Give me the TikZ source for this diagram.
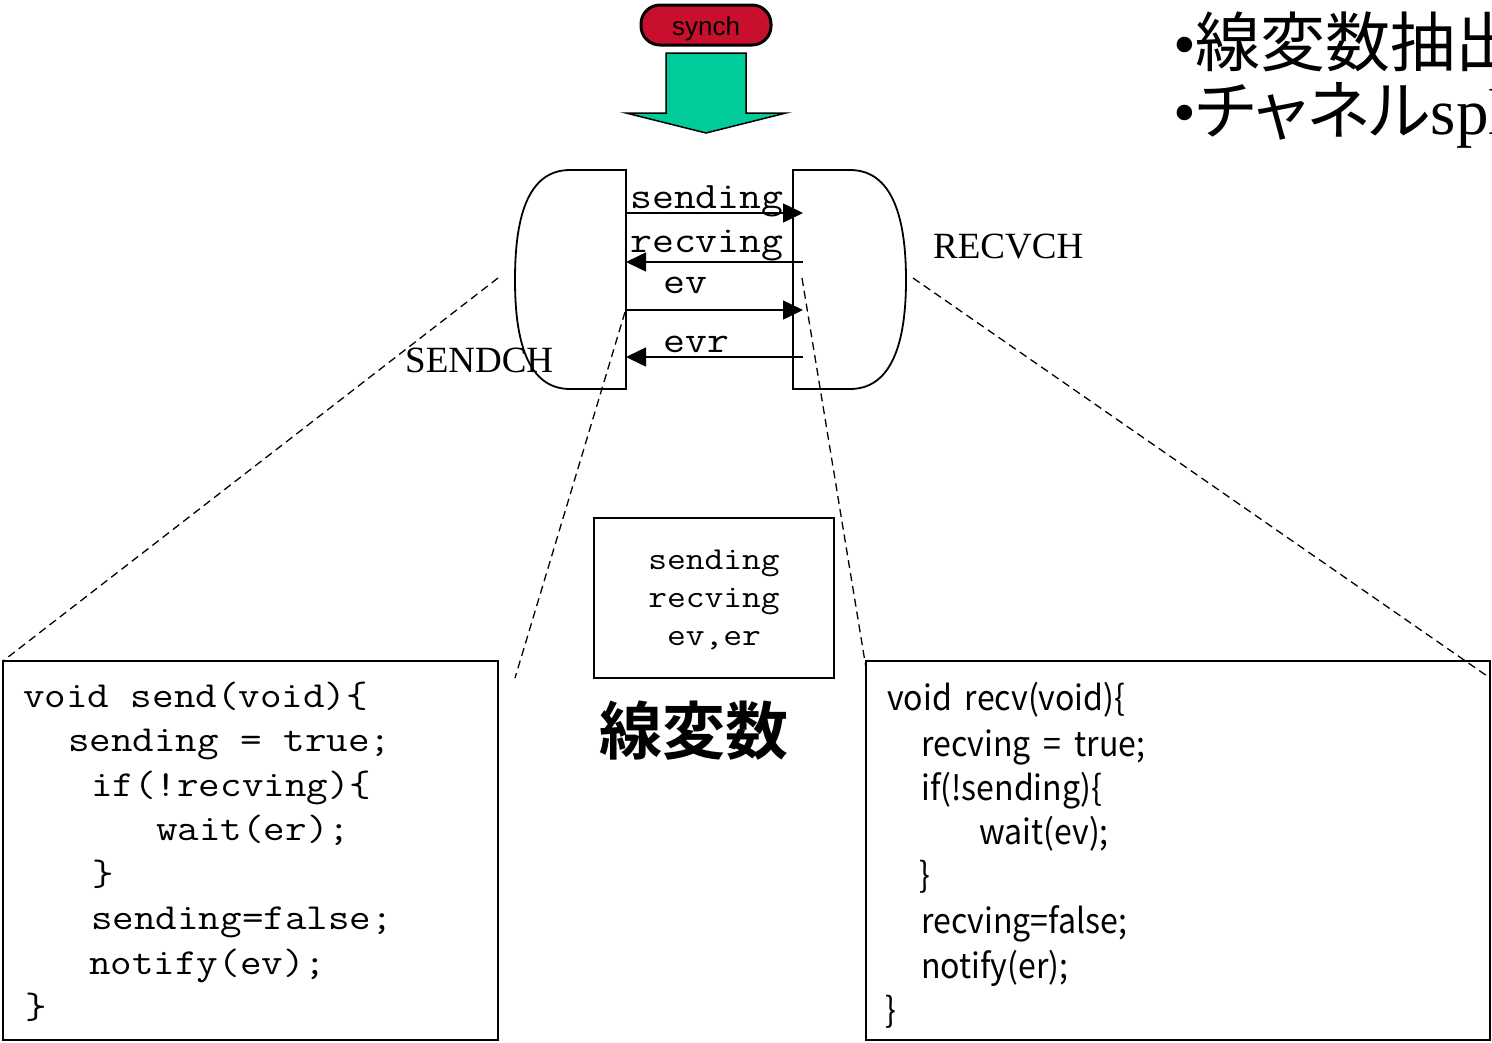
\documentclass[tikz,border=0pt]{standalone}
\usepackage{fontspec}
\setmainfont{Liberation Serif}
\newfontfamily\codefont{Latin Modern Mono}[FakeStretch=1.14]
\newfontfamily\gothic{Noto Sans CJK JP}
\newfontfamily\gothicpalt{Noto Sans CJK JP}[RawFeature=+palt]
\newfontfamily\gothicnarrow{Noto Sans CJK JP}[FakeStretch=0.93, WordSpace=1.8]
\newfontfamily\gothicbold{Noto Sans CJK JP Bold}
\newfontfamily\arialfont{Liberation Sans}
\usetikzlibrary{arrows.meta}
\definecolor{synchred}{HTML}{C8102E}
\definecolor{arrowgreen}{HTML}{00CC99}
\tikzset{
  outline/.style={draw=black, line width=1.8pt},
  guide/.style={draw=black, line width=1.3pt, dash pattern=on 8pt off 5pt},
  signal/.style={line width=1.6pt, -{Triangle[length=20pt,width=19pt]}},
  codebox/.style={draw=black, line width=1.8pt},
  monocode/.style={anchor=base west, inner sep=0pt, font=\codefont\fontsize{36.7}{40}\selectfont},
  gothiccode/.style={anchor=base west, inner sep=0pt, font=\gothicnarrow\fontsize{34.5}{40}\selectfont},
  siglabel/.style={anchor=base west, inner sep=0pt, font=\codefont\fontsize{37.3}{40}\selectfont},
  chlabel/.style={anchor=west, inner sep=0pt, font=\fontsize{37}{40}\selectfont},
  varlabel/.style={anchor=base, inner sep=0pt, font=\codefont\fontsize{32}{36}\selectfont},
}
\begin{document}
\begin{tikzpicture}[x=1pt,y=-1pt]
\useasboundingbox (0,0) rectangle (1492,1042);
\clip (0,0) rectangle (1492,1042);

% heading bullets at the top right
\node[anchor=base west, inner sep=0pt, font=\fontsize{65}{70}\selectfont] (head1) at (1173,66) {•{\gothic 線変数抽出}};
\node[anchor=base west, inner sep=0pt, font=\fontsize{65}{70}\selectfont] (head2) at (1173,134) {•{\gothicpalt チャネル}spl};

% synch tag and the downward block arrow
\node[draw=black, line width=3pt, fill=synchred, rounded corners=19pt,
      minimum width=130pt, minimum height=40pt, inner sep=0pt] (synch) at (706,25) {};
\node[anchor=base, inner sep=0pt, font=\arialfont\fontsize{26}{28}\selectfont] (synchtext) at (706,35) {synch};
\path[draw=black, line width=1.5pt, fill=arrowgreen]
  (666,53) -- (746,53) -- (746,113) -- (786,113) -- (706,133) -- (626,113) -- (666,113) -- cycle;

% the two channel halves
\path[outline] (626,170) -- (570,170) to[out=180,in=90] (515,280)
  to[out=-90,in=180] (570,389) -- (626,389) -- cycle;
\path[outline] (793,170) -- (850,170) to[out=0,in=90] (906,280)
  to[out=-90,in=0] (850,389) -- (793,389) -- cycle;
\node[chlabel] (sendch) at (405,360) {SENDCH};
\node[chlabel] (recvch) at (933,247) {RECVCH};

% signals between the channel halves
\coordinate (s1) at (626,213); \coordinate (r1) at (803,213);
\coordinate (s2) at (626,262); \coordinate (r2) at (803,262);
\coordinate (s3) at (626,310); \coordinate (r3) at (803,310);
\coordinate (s4) at (626,357); \coordinate (r4) at (803,357);
\draw[signal] (s1) -- (r1);
\draw[signal] (r2) -- (s2);
\draw[signal] (s3) -- (r3);
\draw[signal] (r4) -- (s4);
\node[siglabel] (lsending) at (630,208) {sending};
\node[siglabel] (lrecving) at (630,252) {recving};
\node[siglabel] (lev) at (663,293) {ev};
\node[siglabel] (levr) at (663,352) {evr};

% shared variables
\node[codebox, minimum width=240pt, minimum height=160pt, inner sep=0pt] (vars) at (714,598) {};
\node[varlabel] (v1) at (714,569) {sending};
\node[varlabel] (v2) at (714,607) {recving};
\node[varlabel] (v3) at (714,645) {ev,er};
\node[anchor=center, inner sep=0pt, font=\gothicbold\fontsize{63}{66}\selectfont] (linvar) at (694,731) {線変数};

% code boxes
\node[codebox, minimum width=495pt, minimum height=379pt, inner sep=0pt] (sendbox) at (250.5,850.5) {};
\node[codebox, minimum width=624pt, minimum height=379pt, inner sep=0pt] (recvbox) at (1178,850.5) {};

% zoom guides from the channels to the code
\coordinate (g1a) at (498,278); \coordinate (g1b) at (3,661);
\coordinate (g2a) at (625,312); \coordinate (g2b) at (515,678);
\coordinate (g3a) at (802,278); \coordinate (g3b) at (866,668);
\coordinate (g4a) at (913,278); \coordinate (g4b) at (1490,678);
\draw[guide] (g1a) -- (g1b);
\draw[guide] (g2a) -- (g2b);
\draw[guide] (g3a) -- (g3b);
\draw[guide] (g4a) -- (g4b);

% send side
\node[monocode] (c1) at (23,707) {void send(void)\{};
\node[monocode] (c2) at (68,751) {sending = true;};
\node[monocode] (c3) at (91,796) {if(!recving)\{};
\node[monocode] (c4) at (156,840) {wait(er);};
\node[monocode] (c5) at (92,885) {\}};
\node[monocode] (c6) at (91,929) {sending=false;};
\node[monocode] (c7) at (89,974) {notify(ev);};
\node[monocode] (c8) at (25,1018) {\}};

% receive side
\node[gothiccode] (d1) at (887,710) {void recv(void)\{};
\node[gothiccode] (d2) at (921,756) {recving = true;};
\node[gothiccode] (d3) at (921,800) {if(!sending)\{};
\node[gothiccode] (d4) at (979,844) {wait(ev);};
\node[gothiccode] (d5) at (919,887) {\}};
\node[gothiccode] (d6) at (921,933) {recving=false;};
\node[gothiccode] (d7) at (921,978) {notify(er);};
\node[gothiccode] (d8) at (885,1022) {\}};
\end{tikzpicture}
\end{document}
